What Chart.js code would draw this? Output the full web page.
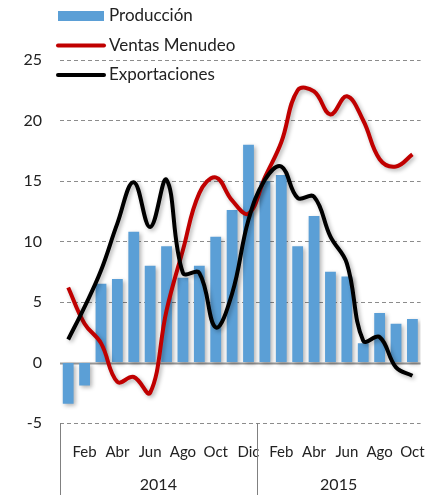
<!DOCTYPE html>
<html>
<head>
<meta charset="utf-8">
<script src="https://cdn.jsdelivr.net/npm/chart.js@4"></script>
<style>
  html, body { margin: 0; padding: 0; background: #fff; }
  #wrap { width: 445px; height: 495px; position: relative; }
</style>
</head>
<body>
<div id="wrap"><canvas id="chart"></canvas></div>
<script>
// months Jan 2014 .. Oct 2015
const months = ['Ene','Feb','Mar','Abr','May','Jun','Jul','Ago','Sep','Oct','Nov','Dic',
                'Ene','Feb','Mar','Abr','May','Jun','Jul','Ago','Sep','Oct'];
const years = ['2014', '2015'];
const yearLengths = [12, 10];

const produccion = [-3.4, -1.9, 6.5, 6.9, 10.8, 8.0, 9.6, 7.0, 8.0, 10.4, 12.6, 18.0,
                    15.0, 15.5, 9.6, 12.1, 7.5, 7.1, 1.6, 4.1, 3.2, 3.6];
const ventas = [6.2, 3.2, 1.6, -1.6, -1.2, -2.5, 4.3, 9.3, 14.0, 15.3, 13.4, 12.3,
                15.3, 18.2, 22.5, 22.4, 20.5, 22.0, 20.0, 16.8, 16.2, 17.2];
const exportaciones = [1.9, 4.6, 7.6, 11.5, 14.9, 11.2, 15.1, 7.4, 7.4, 2.9, 5.7, 11.8,
                       15.1, 16.2, 13.6, 13.7, 10.4, 8.2, 1.8, 2.1, -0.4, -1.1];

const FONT = 'Lato, "Noto Sans", sans-serif';

// two level x axis: year labels + separators
const yearAxis = {
    id: 'yearAxis',
    afterDraw(chart) {
        const ctx = chart.ctx;
        const x = chart.scales.x;
        const area = chart.chartArea;
        const step = x.getPixelForValue(1) - x.getPixelForValue(0);
        ctx.save();
        ctx.strokeStyle = '#808080';
        ctx.lineWidth = 1;
        ctx.fillStyle = '#222';
        ctx.font = '16px ' + FONT;
        ctx.textAlign = 'center';
        ctx.textBaseline = 'middle';
        let start = 0;
        const edges = [area.left];
        yearLengths.forEach((len, i) => {
            const left = x.getPixelForValue(start) - step / 2;
            const right = x.getPixelForValue(start + len - 1) + step / 2;
            edges.push(right);
            ctx.fillText(years[i], (left + right) / 2, 485);
            start += len;
        });
        edges.slice(0, 2).forEach(px => {
            const p = Math.round(px) + 0.5;
            ctx.beginPath();
            ctx.moveTo(p, area.bottom);
            ctx.lineTo(p, 495);
            ctx.stroke();
        });
        ctx.restore();
    }
};

// legend stacked at top left, drawn over the plot
const legendBox = {
    id: 'legendBox',
    afterDraw(chart) {
        const ctx = chart.ctx;
        ctx.save();
        ctx.font = '17px ' + FONT;
        ctx.textBaseline = 'middle';
        chart.data.datasets.forEach((ds, i) => {
            const y = 16 + i * 29.5;
            if (ds.type === 'bar') {
                ctx.fillStyle = ds.backgroundColor;
                ctx.fillRect(58, y - 5, 46, 10);
            } else {
                ctx.strokeStyle = ds.borderColor;
                ctx.lineWidth = 4;
                ctx.lineCap = 'round';
                ctx.beginPath();
                ctx.moveTo(58, y);
                ctx.lineTo(104, y);
                ctx.stroke();
            }
            ctx.fillStyle = '#222';
            ctx.fillText(ds.label, 109, y);
        });
        ctx.restore();
    }
};

// solid zero line + soft shadow under the marks
const shadow = {
    id: 'shadow',
    beforeDatasetsDraw(chart) {
        const ctx = chart.ctx;
        const area = chart.chartArea;
        const y0 = Math.round(chart.scales.y.getPixelForValue(0)) + 0.5;
        ctx.save();
        ctx.strokeStyle = '#999';
        ctx.lineWidth = 2;
        ctx.beginPath();
        ctx.moveTo(area.left, y0);
        ctx.lineTo(area.right, y0);
        ctx.stroke();
        ctx.restore();
        ctx.save();
        ctx.shadowColor = 'rgba(0,0,0,0.3)';
        ctx.shadowBlur = 4;
        ctx.shadowOffsetX = 2;
        ctx.shadowOffsetY = 2;
    },
    afterDatasetsDraw(chart) {
        chart.ctx.restore();
    }
};

const ctx = document.getElementById('chart').getContext('2d');
new Chart(ctx, {
    data: {
        labels: months,
        datasets: [{
            type: 'bar',
            label: 'Producción',
            data: produccion,
            backgroundColor: '#5B9FD6',
            barPercentage: 0.66,
            categoryPercentage: 1,
            order: 3
        }, {
            type: 'line',
            label: 'Ventas Menudeo',
            data: ventas,
            borderColor: '#C00000',
            borderWidth: 4,
            pointRadius: 0,
            tension: 0.4,
            fill: false,
            order: 2
        }, {
            type: 'line',
            label: 'Exportaciones',
            data: exportaciones,
            borderColor: '#000000',
            borderWidth: 4,
            pointRadius: 0,
            tension: 0.4,
            fill: false,
            order: 1
        }]
    },
    options: {
        responsive: true,
        maintainAspectRatio: false,
        animation: false,
        layout: { padding: { top: 60, right: 16, left: 0, bottom: 0 } },
        plugins: {
            legend: { display: false },
            tooltip: { enabled: false }
        },
        scales: {
            x: {
                grid: { display: false, drawTicks: false },
                border: { display: false },
                ticks: {
                    autoSkip: false,
                    maxRotation: 0,
                    minRotation: 0,
                    padding: 20,
                    color: '#222',
                    font: { family: FONT, size: 15 },
                    callback: (v, i) => (i % 2 === 1 ? months[i] : '')
                },
                afterFit: s => { s.height = 72; }
            },
            y: {
                min: -5,
                max: 25,
                ticks: {
                    stepSize: 5,
                    padding: 18,
                    color: '#222',
                    font: { family: FONT, size: 16 }
                },
                border: { display: false, dash: [4, 3] },
                grid: {
                    drawTicks: false,
                    color: ctx => (ctx.tick && ctx.tick.value === 0 ? 'rgba(0,0,0,0)' : '#8c8c8c'),
                    lineWidth: 1
                },
                afterFit: s => { s.width = 60; }
            }
        }
    },
    plugins: [shadow, yearAxis, legendBox]
});
</script>
</body>
</html>
